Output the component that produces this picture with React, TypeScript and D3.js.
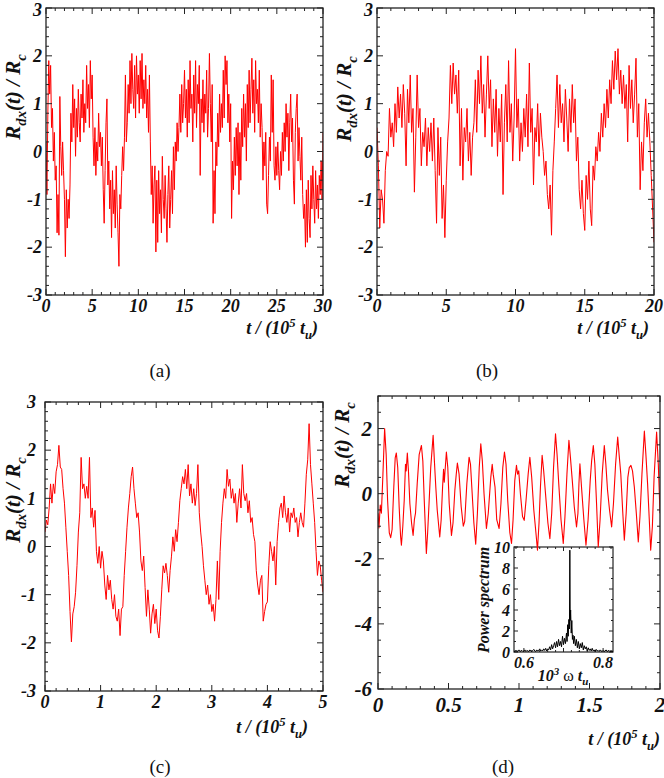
import React from 'react';
import * as d3 from 'd3';

const FONT = "Liberation Serif, Times New Roman, serif";
const RED = '#ff0000';

// Panel (a): R_dx/R_c sampled every 0.1 (10^5 t_u), t = 0..30
const seriesA = [
  0.2, -0.9, 0.8, 1.9, 1.2, 1.8, 0.5, 0.9, -0.2, 0.4,
  -0.6, -0.3, -1.7, -0.9, -1.75, 1.15, 0.1, -0.5, 0.2, -0.4,
  -1.0, -2.2, -0.8, -1.6, -1.0, -1.4, -0.7, 0.8, 0.2, 1.4,
  0.5, 1.1, -0.1, 0.9, 0.3, 1.3, 0.6, 0.2, 1.2, 0.7,
  1.5, 0.4, 1.0, 0.6, 1.8, 0.9, 1.4, 0.5, 1.9, 1.1,
  1.6, 0.3, -0.3, 0.5, -0.5, 0.2, -0.2, 0.8, 0.1, 0.4,
  -0.3, 0.3, -0.8, -1.5, -0.4, 0.6, 1.1, -0.7, -0.2, -1.2,
  -0.6, -1.8, -0.4, -1.3, -0.8, -1.6, -0.3, -1.1, -1.7, -2.4,
  -0.9, -1.2, -0.5, 0.1, -0.4, 0.3, 1.6, 0.2, 0.6, 1.4,
  0.8, 1.9, 1.0, 2.05, 1.3, 0.9, 1.8, 0.7, 2.0, 1.2,
  1.6, 0.8, 1.9, 1.1, 2.05, 0.9, 1.5, 1.0, 1.8, 0.7,
  1.3, 0.4, 1.6, 0.2, -0.9, -0.3, -1.5, -0.7, -0.3, -2.1,
  -0.6, -1.9, -0.4, -1.3, -0.8, -1.7, -0.1, -1.0, -1.4, -0.5,
  -1.2, -1.9, -0.9, -0.3, -1.6, -1.0, -0.4, -1.3, 0.1, -0.8,
  0.2, -0.2, 0.6, 0.0, 0.5, 1.2, 0.4, 1.4, 0.6, 1.0,
  1.7, 0.7, 1.3, 0.3, 1.5, 0.6, 1.9, 0.9, 1.2, 0.2,
  1.6, 0.8, 1.9, 0.5, 1.4, 1.0, 1.8, -0.5, 1.1, 0.6,
  1.5, 0.4, 1.2, 0.8, 1.7, 0.3, 0.9, 2.05, 1.0, 0.2,
  1.4, -1.5, -0.4, -1.3, 0.2, -0.3, 0.8, 0.1, 1.2, 0.4,
  1.0, 0.5, 1.7, 0.7, 2.0, 1.4, 1.9, 0.6, 1.2, 0.2,
  1.0, -1.4, -0.2, -0.8, 0.3, -0.5, 0.5, -0.3, 0.6, -0.9,
  0.4, -0.6, 0.9, 0.1, 1.2, 0.3, 1.0, -0.2, 1.4, 0.5,
  1.7, 0.6, 1.3, 1.95, 0.8, 1.5, 0.4, 1.9, 1.0, 1.3,
  0.6, 1.7, 0.3, 1.0, 0.5, -0.6, 0.2, -0.3, 0.4, -1.1,
  -1.3, -0.5, 0.3, -0.2, 1.6, 0.4, 1.5, -0.3, -0.6, 0.1,
  -0.5, 0.2, -0.4, -0.8, 0.0, -0.5, 0.4, -0.2, 0.6, 0.0,
  1.0, 0.3, 0.8, -0.4, 0.6, 1.2, 0.2, 0.7, -0.6, -1.1,
  0.4, 0.9, 1.2, -0.2, 0.5, -0.1, -0.6, 0.3, -0.9, -1.4,
  -1.1, -2.0, -0.8, -1.9, -0.6, -1.4, -1.8, -0.5, -1.2, -0.3,
  -1.0, -1.5, -0.4, -1.2, -0.7, -1.4, -0.5, -0.9, -0.2, -1.0, 0.4,
];
const stepA = 0.1;

// Panel (b): sampled every 0.1, t = 0..20
const seriesB = [
  0.5, -0.3, -1.6, -0.8, -1.0, -1.5, -0.4, 0.0, -0.1, 0.9,
  0.3, 0.6, 0.1, 1.0, 0.4, 1.35, 0.7, 1.2, 0.5, 1.4,
  0.8, -0.3, 1.3, 0.6, 1.6, 0.4, 0.9, -0.85, 0.3, 1.6,
  0.5, 0.9, -0.3, 0.4, 0.1, 0.7, -0.3, 0.5, 0.0, 0.6,
  -0.2, 0.7, -0.4, -1.5, 0.5, -0.5, 0.3, -1.4, -0.7, -1.8,
  -0.6, 0.2, 0.7, 1.8, 1.0, 1.85, 1.2, 1.6, 0.8, 1.7,
  -0.3, 0.9, -0.6, 0.5, 0.2, 0.9, -0.2, 0.4, -0.5, 0.3,
  0.6, 1.5, 0.4, 1.7, 1.0, 2.0, 0.8, 1.4, 0.3, 1.2,
  2.0, 0.9, 1.5, 0.1, 1.1, 0.4, 1.3, -0.1, 0.9, 0.2,
  1.2, -0.9, 0.6, 1.4, 0.2, 1.9, 0.4, 1.0, -0.2, 0.7,
  2.15, 0.5, 1.1, -0.2, 0.6, 0.0, 0.9, 0.3, 1.2, 0.1,
  1.85, 0.4, 0.9, -0.7, 0.5, 0.2, 1.0, -0.1, 0.8, 0.3,
  0.0, -0.5, -0.2, -0.9, -1.2, -0.7, -1.75, -0.4, 0.2, 0.9,
  1.6, 0.5, 1.4, 0.6, 1.0, 0.2, 1.3, 0.7, 0.0, 1.1,
  0.4, 1.4, 0.6, 1.1, -0.2, 0.3, -0.8, -1.2, -0.6, -1.3,
  -1.65, -0.5, -1.0, -0.2, -1.2, -1.55, -0.3, -0.6, 0.1, -0.2,
  0.4, 0.0, 0.8, 0.3, 1.0, 0.5, 1.3, 0.7, 1.5, 1.0,
  1.9, 1.3, 2.1, 1.5, 2.15, 1.2, 1.7, 1.0, 1.6, 0.9,
  1.4, 0.2, 1.8, 0.9, 1.5, 0.6, 1.2, 1.95, 0.3, 1.0,
  -0.8, 0.2, -0.4, 0.6, 1.1, 0.3, 0.8, 0.2, -0.5, -1.2, -1.9,
];
const stepB = 0.1;

// Panel (c): sampled every 0.025, t = 0..5
const seriesC = [
  0.30, 0.55, 0.45, 0.80, 1.30, 0.90, 1.30, 1.10, 1.55, 1.70,
  2.10, 1.65, 1.60, 1.20, 0.90, 0.40, -0.10, -0.60, -1.35, -1.98,
  -1.40, -1.25, -0.95, -0.40, 0.30, 0.70, 1.85, 1.20, 1.30, 1.00,
  1.25, 1.00, 1.85, 0.60, 0.80, 0.40, 0.75, -0.10, -0.35, 0.00,
  -0.45, -0.10, -0.30, -0.80, -1.10, -0.60, -0.90, -0.70, -1.10, -1.30,
  -1.00, -1.45, -1.55, -1.30, -1.85, -1.30, -1.25, -0.60, -0.10, 0.40,
  0.80, 1.10, 1.45, 1.65, 1.20, 0.90, 0.60, 0.70, 0.30, -0.30,
  -0.50, -0.20, -0.85, -1.45, -0.90, -1.30, -1.80, -1.40, -1.20, -1.60,
  -1.30, -1.75, -1.90, -1.45, -0.90, -0.40, -0.55, -0.35, -0.60, -0.95,
  -0.50, -0.20, 0.20, -0.10, 0.35, 0.10, 0.50, 0.95, 1.20, 1.45,
  1.30, 1.60, 1.20, 1.70,
  1.05, 1.30, 0.90, 1.20, 0.85, 1.10, 1.70, 0.70, 0.30, 0.00,
  -0.40, -0.70, -1.00, -0.80, -1.20, -1.00, -1.35, -1.20, -1.55, -1.10,
  -0.30, -1.10, -0.10, 0.50, 0.90, 1.20, 1.00, 1.60, 1.25, 1.40,
  1.00, 1.20, 0.90, 1.10, 0.50, 0.90, 1.20, 0.80, 1.70, 1.10,
  0.95, 1.10, 0.70, 0.95, 0.50, 0.60, 0.25, 0.10, -0.50, -0.80,
  -1.00, -0.70, -0.60, -1.55, -1.35, -1.20, -1.15, -0.40, 0.10, -0.10,
  -0.30, 0.00, -0.80, 0.10, 0.50, 0.80, 0.90, 0.60, 1.05, 0.70,
  0.50, 0.80, 0.30, 0.70, 0.60, 0.80, 0.50, 0.60, 0.20, 0.50,
  0.70, 0.50, 0.40, 0.90, 1.50, 1.80, 2.55, 1.70, 1.30, 0.90,
  0.50, -0.10, -0.60, -0.30, -0.40, -0.70, -0.95,
];
const stepC = 0.025;

// Panel (d): key points (t, value)
const tD = [
  0.000, 0.007, 0.016, 0.024, 0.035, 0.047, 0.058, 0.068, 0.080, 0.090,
  0.100, 0.112, 0.122, 0.130, 0.140, 0.150, 0.160, 0.166, 0.176, 0.186,
  0.195, 0.200, 0.208, 0.216, 0.226, 0.238, 0.249, 0.258, 0.266, 0.278,
  0.292, 0.308, 0.318, 0.328, 0.343, 0.352, 0.362, 0.374, 0.391, 0.400,
  0.410, 0.420, 0.438, 0.448, 0.458, 0.465, 0.470, 0.485, 0.495, 0.505,
  0.521, 0.532, 0.545, 0.555, 0.563, 0.575, 0.590, 0.605, 0.615, 0.630,
  0.646, 0.656, 0.668, 0.680, 0.693, 0.705, 0.718, 0.729, 0.740, 0.752,
  0.769, 0.782, 0.800, 0.810, 0.817, 0.830, 0.842, 0.859, 0.872, 0.885,
  0.897, 0.908, 0.920, 0.935, 0.947, 0.958, 0.970, 0.982, 0.990, 0.998,
  1.010, 1.025, 1.037, 1.050, 1.065, 1.077, 1.090, 1.105, 1.120, 1.131,
  1.142, 1.152, 1.164, 1.175, 1.188, 1.205, 1.219, 1.232, 1.245, 1.259,
  1.270, 1.282, 1.298, 1.314, 1.326, 1.340, 1.354, 1.365, 1.378, 1.392,
  1.408, 1.418, 1.425, 1.432, 1.445, 1.460, 1.475, 1.490, 1.505, 1.515,
  1.527, 1.538, 1.550, 1.562, 1.575, 1.590, 1.605, 1.616, 1.628, 1.642,
  1.657, 1.670, 1.685, 1.700, 1.710, 1.722, 1.735, 1.747, 1.760, 1.772,
  1.782, 1.794, 1.805, 1.818, 1.832, 1.846, 1.858, 1.872, 1.889, 1.900,
  1.912, 1.924, 1.934, 1.946, 1.958, 1.976, 1.988, 2.000,
];
const vD = [
  -0.6, -1.05, -0.35, -0.6, 0.6, 2.0, 1.2, -0.2, -1.2, -1.35,
  -1.1, 0.2, 1.1, 1.25, 0.8, -0.4, -1.3, -1.58, -1.0, -0.2,
  0.9, 0.7, 1.25, 0.7, -0.3, -0.9, -1.28, -0.8, -0.6, 0.3,
  1.2, 1.48, 1.0, -0.2, -1.84, -1.2, -0.3, 0.8, 1.79, 1.0,
  0.2, -0.5, -1.33, -0.8, 0.2, 0.75, 0.35, 1.28, 0.8, -0.3,
  -1.28, -0.9, 0.1, 0.6, 0.94, 0.6, -0.4, -1.0, -0.85, 0.3,
  1.12, 0.9, 0.0, -0.9, -1.55, -0.6, 0.8, 1.53, 1.0, 0.0,
  -1.07, -0.6, 0.5, 0.9, 0.6, 0.2, -0.8, -1.07, -0.3, 0.8,
  1.28, 0.9, -0.2, -1.2, -1.53, -0.8, 0.4, 0.87, 0.6, 0.7,
  0.0, -0.7, -0.82, -0.2, 0.6, 1.12, 0.5, -0.5, -1.2, -1.74,
  -0.9, 0.2, 1.18, 0.7, 0.0, -0.9, -1.38, -0.6, 0.8, 1.84,
  1.2, 0.3, -0.8, -1.53, -0.7, 0.6, 1.64, 1.1, 0.4, -0.4,
  -1.02, -0.6, 0.3, 0.92, 0.1, -0.8, -1.58, -0.8, 0.4, 1.0,
  1.48, 0.9, -0.3, -1.64, -0.8, 0.6, 1.48, 0.9, 0.1, -0.5,
  -1.02, -0.3, 0.9, 1.74, 1.2, 0.6, -0.5, -1.43, -0.6, 0.5,
  0.8, 0.87, 0.7, 0.2, -0.6, -1.48, -0.7, 0.6, 1.92, 1.2,
  0.3, -0.8, -1.74, -1.0, 0.5, 1.89, 0.9, -0.6,
];

// Inset: power spectrum (10^3 ω t_u, power)
const specW = [
  0.575, 0.5775, 0.58, 0.5825, 0.585, 0.5875, 0.59, 0.5925, 0.595, 0.5975,
  0.6, 0.6025, 0.605, 0.6075, 0.61, 0.6125, 0.615, 0.6175, 0.62, 0.6225,
  0.625, 0.6275, 0.63, 0.6325, 0.635, 0.6375, 0.64, 0.6425, 0.645, 0.6475,
  0.65, 0.6525, 0.655, 0.6575, 0.66, 0.6625, 0.665, 0.6675, 0.67, 0.6725,
  0.675, 0.6775, 0.68, 0.6825, 0.685, 0.6875, 0.69, 0.6925, 0.695, 0.6975,
  0.70, 0.7025, 0.705, 0.7075, 0.709, 0.7105, 0.712, 0.7135, 0.715, 0.716,
  0.717, 0.718, 0.7195, 0.721, 0.7225, 0.724, 0.7255, 0.7275, 0.73, 0.7325,
  0.735, 0.7375, 0.74, 0.7425, 0.745, 0.7475, 0.75, 0.7525, 0.755, 0.7575,
  0.76, 0.7625, 0.765, 0.7675, 0.77, 0.7725, 0.775, 0.7775, 0.78, 0.7825,
  0.785, 0.7875, 0.79, 0.7925, 0.795, 0.7975, 0.8, 0.8025, 0.805, 0.8075,
  0.81, 0.8125, 0.815, 0.8175, 0.82, 0.8225, 0.825,
];
const specP = [
  0.1, 0.05, 0.15, 0.05, 0.1, 0.2, 0.05, 0.1, 0.15, 0.05,
  0.1, 0.2, 0.05, 0.15, 0.1, 0.05, 0.2, 0.1, 0.05, 0.15,
  0.25, 0.1, 0.05, 0.2, 0.1, 0.15, 0.3, 0.1, 0.2, 0.1,
  0.3, 0.15, 0.35, 0.1, 0.3, 0.2, 0.5, 0.2, 0.7, 0.3,
  0.6, 0.9, 0.4, 1.0, 0.5, 1.2, 0.6, 1.0, 0.5, 1.5,
  0.7, 1.3, 0.8, 1.8, 1.0, 2.6, 1.5, 3.1, 2.2, 9.7,
  3.0, 4.0, 1.8, 3.0, 1.2, 1.6, 0.8, 1.5, 0.6, 1.2,
  0.4, 1.0, 0.3, 0.8, 0.4, 0.9, 0.2, 0.6, 0.3, 0.5,
  0.1, 0.4, 0.15, 0.3, 0.1, 0.35, 0.1, 0.2, 0.05, 0.25,
  0.1, 0.15, 0.05, 0.2, 0.1, 0.05, 0.15, 0.05, 0.1, 0.2,
  0.05, 0.1, 0.15, 0.05, 0.1, 0.05, 0.1,
];

const captions = ['(a)', '(b)', '(c)', '(d)'];

function ticksOf(d0: number, d1: number, s: number) {
  const out: number[] = [];
  const start = Math.ceil(d0 / s - 1e-9);
  for (let i = start; i * s <= d1 + 1e-9; i++) out.push(+(i * s).toFixed(6));
  return out;
}
const isMult = (v: number, s: number) => Math.abs(v / s - Math.round(v / s)) < 1e-6;

type AxesProps = {
  x: d3.ScaleLinear<number, number>;
  y: d3.ScaleLinear<number, number>;
  xMajor: number; xMinor: number; yMajor: number; yMinor: number;
  xLabelStep?: number; yLabelStep?: number;
  fs: number; xLabDy: number; yLabGap: number;
  majLen?: number; minLen?: number; sw?: number; color?: string;
};

function Axes(p: AxesProps) {
  const { x, y, fs } = p;
  const majLen = p.majLen ?? 6, minLen = p.minLen ?? 3, sw = p.sw ?? 1.3;
  const color = p.color ?? '#222';
  const [x0, x1] = x.range();
  const [y1, y0] = y.range();
  const [xd0, xd1] = x.domain();
  const [yd0, yd1] = y.domain();
  const xMaj = ticksOf(xd0, xd1, p.xMajor);
  const xMin = ticksOf(xd0, xd1, p.xMinor).filter(v => !isMult(v, p.xMajor));
  const yMaj = ticksOf(yd0, yd1, p.yMajor);
  const yMin = ticksOf(yd0, yd1, p.yMinor).filter(v => !isMult(v, p.yMajor));
  const xLabs = ticksOf(xd0, xd1, p.xLabelStep ?? p.xMajor);
  const yLabs = ticksOf(yd0, yd1, p.yLabelStep ?? p.yMajor);
  const segs: string[] = [];
  const add = (v: number, len: number, axis: 'x' | 'y') => {
    if (axis === 'x') {
      const px = x(v);
      segs.push(`M${px},${y1}v${-len}`, `M${px},${y0}v${len}`);
    } else {
      const py = y(v);
      segs.push(`M${x0},${py}h${len}`, `M${x1},${py}h${-len}`);
    }
  };
  xMaj.forEach(v => add(v, majLen, 'x'));
  xMin.forEach(v => add(v, minLen, 'x'));
  yMaj.forEach(v => add(v, majLen, 'y'));
  yMin.forEach(v => add(v, minLen, 'y'));
  return (
    <g>
      <path d={segs.join('')} stroke={color} strokeWidth={1} fill="none" />
      <rect x={x0} y={y0} width={x1 - x0} height={y1 - y0} fill="none" stroke={color} strokeWidth={sw} />
      <g style={{ fontFamily: FONT }} fontWeight="bold" fontStyle="italic" fontSize={fs} fill="#111">
        {xLabs.map(v => (
          <text key={'x' + v} x={x(v)} y={y1 + p.xLabDy} textAnchor="middle">{String(v)}</text>
        ))}
        {yLabs.map(v => (
          <text key={'y' + v} x={x0 - p.yLabGap} y={Math.max(y(v), fs * 0.55)} dy="0.35em" textAnchor="end">{String(v)}</text>
        ))}
      </g>
    </g>
  );
}

function YLabel({ x, y, fs }: { x: number; y: number; fs: number }) {
  const s = fs * 0.7;
  return (
    <text transform={`translate(${x},${y}) rotate(-90)`} textAnchor="middle" style={{ fontFamily: FONT }}
      fontWeight="bold" fontStyle="italic" fontSize={fs} fill="#111">
      R<tspan dy={fs * 0.28} fontSize={s}>dx</tspan>
      <tspan dy={-fs * 0.28}>(t) / R</tspan>
      <tspan dy={fs * 0.28} fontSize={s}>c</tspan>
    </text>
  );
}

function XTitle({ x, y, fs }: { x: number; y: number; fs: number }) {
  const s = fs * 0.7;
  return (
    <text x={x} y={y} textAnchor="end" style={{ fontFamily: FONT }} fontWeight="bold" fontStyle="italic" fontSize={fs} fill="#111">
      t / (10<tspan dy={-fs * 0.4} fontSize={s}>5</tspan>
      <tspan dy={fs * 0.4}> t</tspan>
      <tspan dy={fs * 0.3} fontSize={s}>u</tspan>
      <tspan dy={-fs * 0.3}>)</tspan>
    </text>
  );
}

function Caption({ x, y, text }: { x: number; y: number; text: string }) {
  return (
    <text x={x} y={y} textAnchor="middle" style={{ fontFamily: FONT }} fontSize={19} fill="#111">{text}</text>
  );
}

function Trace({ id, x, y, ts, vs, color, width }: {
  id: string; x: d3.ScaleLinear<number, number>; y: d3.ScaleLinear<number, number>;
  ts: number[]; vs: number[]; color: string; width: number;
}) {
  const [x0, x1] = x.range();
  const [y1, y0] = y.range();
  const line = d3.line<number>().x((_, i) => x(ts[i])).y(v => y(v));
  return (
    <g>
      <clipPath id={id}><rect x={x0} y={y0} width={x1 - x0} height={y1 - y0} /></clipPath>
      <path d={line(vs) ?? ''} fill="none" stroke={color} strokeWidth={width} strokeLinejoin="round" clipPath={`url(#${id})`} />
    </g>
  );
}

export default function App() {
  // Panel (a)
  const xa = d3.scaleLinear().domain([0, 30]).range([46, 323]);
  const ya = d3.scaleLinear().domain([-3, 3]).range([295, 8]);
  const ta = seriesA.map((_, i) => i * stepA);
  // Panel (b)
  const xb = d3.scaleLinear().domain([0, 20]).range([377, 654]);
  const yb = d3.scaleLinear().domain([-3, 3]).range([295, 8]);
  const tb = seriesB.map((_, i) => i * stepB);
  // Panel (c)
  const xc = d3.scaleLinear().domain([0, 5]).range([45, 323]);
  const yc = d3.scaleLinear().domain([-3, 3]).range([691, 402]);
  const tc = seriesC.map((_, i) => i * stepC);
  // Panel (d)
  const xd = d3.scaleLinear().domain([0, 2]).range([378, 660]);
  const yd = d3.scaleLinear().domain([-6, 3]).range([689, 396]);
  // Inset
  const xi = d3.scaleLinear().domain([0.575, 0.825]).range([514, 613]);
  const yi = d3.scaleLinear().domain([0, 10]).range([652, 547]);

  return (
    <svg width={664} height={778} style={{ position: 'absolute', left: 0, top: 0, background: '#fff' }}>
      <rect x={0} y={0} width={664} height={778} fill="#fff" />

      {/* (a) */}
      <Trace id="ca" x={xa} y={ya} ts={ta} vs={seriesA} color={RED} width={1} />
      <Axes x={xa} y={ya} xMajor={5} xMinor={1} yMajor={1} yMinor={0.2} fs={18} xLabDy={17} yLabGap={4} />
      <YLabel x={20} y={97} fs={21} />
      <XTitle x={318} y={334} fs={18} />
      <Caption x={160} y={377} text={captions[0]} />

      {/* (b) */}
      <Trace id="cb" x={xb} y={yb} ts={tb} vs={seriesB} color={RED} width={1} />
      <Axes x={xb} y={yb} xMajor={5} xMinor={1} yMajor={1} yMinor={0.2} fs={18} xLabDy={17} yLabGap={4} />
      <YLabel x={351} y={99} fs={21} />
      <XTitle x={649} y={334} fs={18} />
      <Caption x={487} y={377} text={captions[1]} />

      {/* (c) */}
      <Trace id="cc" x={xc} y={yc} ts={tc} vs={seriesC} color={RED} width={1} />
      <Axes x={xc} y={yc} xMajor={1} xMinor={0.2} yMajor={1} yMinor={0.2} fs={18} xLabDy={17} yLabGap={9} />
      <YLabel x={20} y={500} fs={21} />
      <XTitle x={308} y={733} fs={18} />
      <Caption x={160} y={773} text={captions[2]} />

      {/* (d) */}
      <Axes x={xi} y={yi} xMajor={0.1} xMinor={0.02} yMajor={2} yMinor={1} xLabelStep={0.2}
        fs={16} xLabDy={16} yLabGap={4} majLen={4} minLen={2} sw={1.2} />
      <Trace id="ci" x={xi} y={yi} ts={specW} vs={specP} color="#000" width={1} />
      <text transform={`translate(489,600) rotate(-90)`} textAnchor="middle" style={{ fontFamily: FONT }}
        fontWeight="bold" fontStyle="italic" fontSize={16} fill="#111">Power spectrum</text>
      <text x={563} y={681} textAnchor="middle" style={{ fontFamily: FONT }} fontWeight="bold" fontSize={16} fill="#111">
        <tspan fontStyle="italic">10</tspan>
        <tspan dy={-6} fontSize={11} fontStyle="italic">3</tspan>
        <tspan dy={6} fontWeight="normal"> ω </tspan>
        <tspan fontStyle="italic">t</tspan>
        <tspan dy={4} fontSize={11} fontStyle="italic">u</tspan>
      </text>
      <Trace id="cd" x={xd} y={yd} ts={tD} vs={vD} color={RED} width={1.1} />
      <Axes x={xd} y={yd} xMajor={0.5} xMinor={0.1} yMajor={2} yMinor={0.5} fs={21} xLabDy={23} yLabGap={6} />
      <YLabel x={349} y={445} fs={21} />
      <XTitle x={660} y={745} fs={18} />
      <Caption x={503} y={773} text={captions[3]} />
    </svg>
  );
}
